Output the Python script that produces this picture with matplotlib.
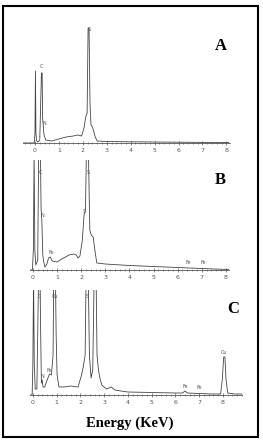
import matplotlib
matplotlib.use("Agg")
import matplotlib.pyplot as plt
from matplotlib.patches import Rectangle
from matplotlib.ticker import MultipleLocator

# ---- data (energy in keV, intensity in arbitrary units) ----
energy_a = [-0.5, -0.03, 0.0, 0.02, 0.04, 0.07, 0.12, 0.2, 0.24, 0.27, 0.3, 0.32, 0.35, 0.38, 0.45, 0.7,
            1.0, 1.3, 1.6, 1.8, 1.95, 2.05, 2.12, 2.18, 2.22, 2.26, 2.3, 2.34, 2.4, 2.45, 2.52, 2.6,
            3.0, 4.0, 5.0, 6.0, 7.0, 8.1]
intens_a = [0, 0, 10, 72, 10, 2, 1, 3, 40, 70, 70, 25, 16, 8, 3, 2,
            4, 6, 7, 8, 7, 15, 26, 30, 115, 115, 40, 18, 16, 12, 6, 2,
            1.5, 1.2, 1, 0.8, 0.6, 0.5]

energy_b = [-0.12, -0.02, 0.02, 0.05, 0.08, 0.12, 0.2, 0.24, 0.27, 0.31, 0.34, 0.37, 0.41, 0.45, 0.5, 0.58, 0.65,
            0.72, 0.8, 1.0, 1.2, 1.5, 1.7, 1.8, 1.87, 1.95, 2.05, 2.12, 2.18, 2.22, 2.3, 2.36, 2.42,
            2.5, 2.58, 2.65, 3.0, 4.0, 5.0, 6.0, 7.0, 7.5, 8.13]
intens_b = [0, 0, 20, 120, 20, 5, 10, 120, 120, 120, 60, 50, 15, 8, 3, 6, 12,
            13, 9, 8, 11, 15, 16, 15, 12, 14, 30, 55, 60, 120, 120, 40, 35,
            33, 18, 7, 6, 4.5, 3.5, 2.5, 1.5, 1, 0.5]

energy_c = [-0.12, -0.03, 0.0, 0.03, 0.06, 0.1, 0.17, 0.24, 0.26, 0.3, 0.33, 0.36, 0.39, 0.43, 0.5, 0.6,
            0.7, 0.78, 0.85, 0.88, 0.91, 0.95, 0.98, 1.02, 1.1, 1.3, 1.6, 1.9, 2.05, 2.12, 2.2, 2.24,
            2.28, 2.33, 2.38, 2.45, 2.52, 2.58, 2.62, 2.66, 2.7, 2.76, 2.82, 2.9, 3.1, 3.3, 3.45, 3.7,
            4.0, 5.0, 6.0, 6.3, 6.4, 6.5, 7.0, 7.5, 7.9, 7.97, 8.03, 8.08, 8.13, 8.2, 8.5, 8.8]
intens_c = [0, 0, 30, 120, 30, 6, 6, 120, 120, 120, 60, 12, 15, 8, 8, 15,
            21, 20, 40, 120, 120, 120, 60, 20, 8, 8, 9, 8, 20, 28, 40, 120,
            120, 120, 40, 17, 25, 120, 120, 120, 40, 25, 17, 10, 6, 8, 5, 4,
            3, 2.5, 2, 2, 4, 2, 1.5, 1, 1, 15, 38, 38, 15, 2, 1, 1]

labels_a = [("C", 0.28, 74), ("S", 2.26, 111), ("N", 0.4, 17)]
labels_b = [("C", 0.3, 95), ("S", 2.28, 95), ("N", 0.4, 52), ("Fe", 0.75, 15), ("S", 2.14, 56),
            ("Fe", 6.45, 5), ("Fe", 7.05, 5)]
labels_c = [("C", 0.28, 96), ("Cu", 0.93, 96), ("S", 2.3, 96), ("N", 0.42, 16), ("Fe", 0.7, 22),
            ("Fe", 6.4, 6), ("Fe", 7.0, 5), ("Cu", 8.05, 40)]

panel_letters = ["A", "B", "C"]

W, H = 263, 445
fig = plt.figure(figsize=(W / 100, H / 100), dpi=100)
fig.patch.set_facecolor("white")

def px_axes(left, right, top, bottom):
    return fig.add_axes([left / W, (H - bottom) / H, (right - left) / W, (bottom - top) / H])

panels = [
    (energy_a, intens_a, labels_a, (23, 230, 25, 143), (-0.5, 8.15), 118),
    (energy_b, intens_b, labels_b, (30, 229, 160, 270), (-0.12, 8.13), 110),
    (energy_c, intens_c, labels_c, (30, 242, 290, 395), (-0.12, 8.8), 105),
]

for i, (ex, iy, labs, box, xl, yh) in enumerate(panels):
    ax = px_axes(*box)
    ax.plot(ex, iy, color="#444444", lw=0.6, clip_on=True)
    ax.set_xlim(*xl)
    ax.set_ylim(0, yh)
    for s in ["left", "right", "top"]:
        ax.spines[s].set_visible(False)
    ax.spines["bottom"].set_color("#555555")
    ax.spines["bottom"].set_linewidth(0.6)
    ax.set_yticks([])
    ax.set_xticks(range(0, 9))
    ax.xaxis.set_minor_locator(MultipleLocator(0.2))
    ax.tick_params(axis="x", which="major", direction="inout", length=3, width=0.5,
                   color="#555555", labelsize=4.5, labelcolor="#555555", pad=2)
    ax.tick_params(axis="x", which="minor", direction="inout", length=1.5, width=0.4,
                   color="#555555")
    ax.patch.set_alpha(0)
    for t, x, y in labs:
        ax.text(x, y, t, fontsize=3.5, color="#555555", ha="center", va="bottom")
    ax.text(0.985, 0.82, panel_letters[i], transform=ax.transAxes, fontsize=12,
            fontweight="bold", family="Liberation Serif", ha="right", va="center")

fig.text(130 / W, 1 - 423 / H, "Energy (KeV)", fontsize=10.5, fontweight="bold",
         family="Liberation Serif", ha="center", va="center")

fig.patches.append(Rectangle((3 / W, 1 - 437 / H), 255 / W, 431 / H, transform=fig.transFigure,
                             fill=False, lw=1.5, edgecolor="black"))

fig.savefig("out.png", dpi=100)
